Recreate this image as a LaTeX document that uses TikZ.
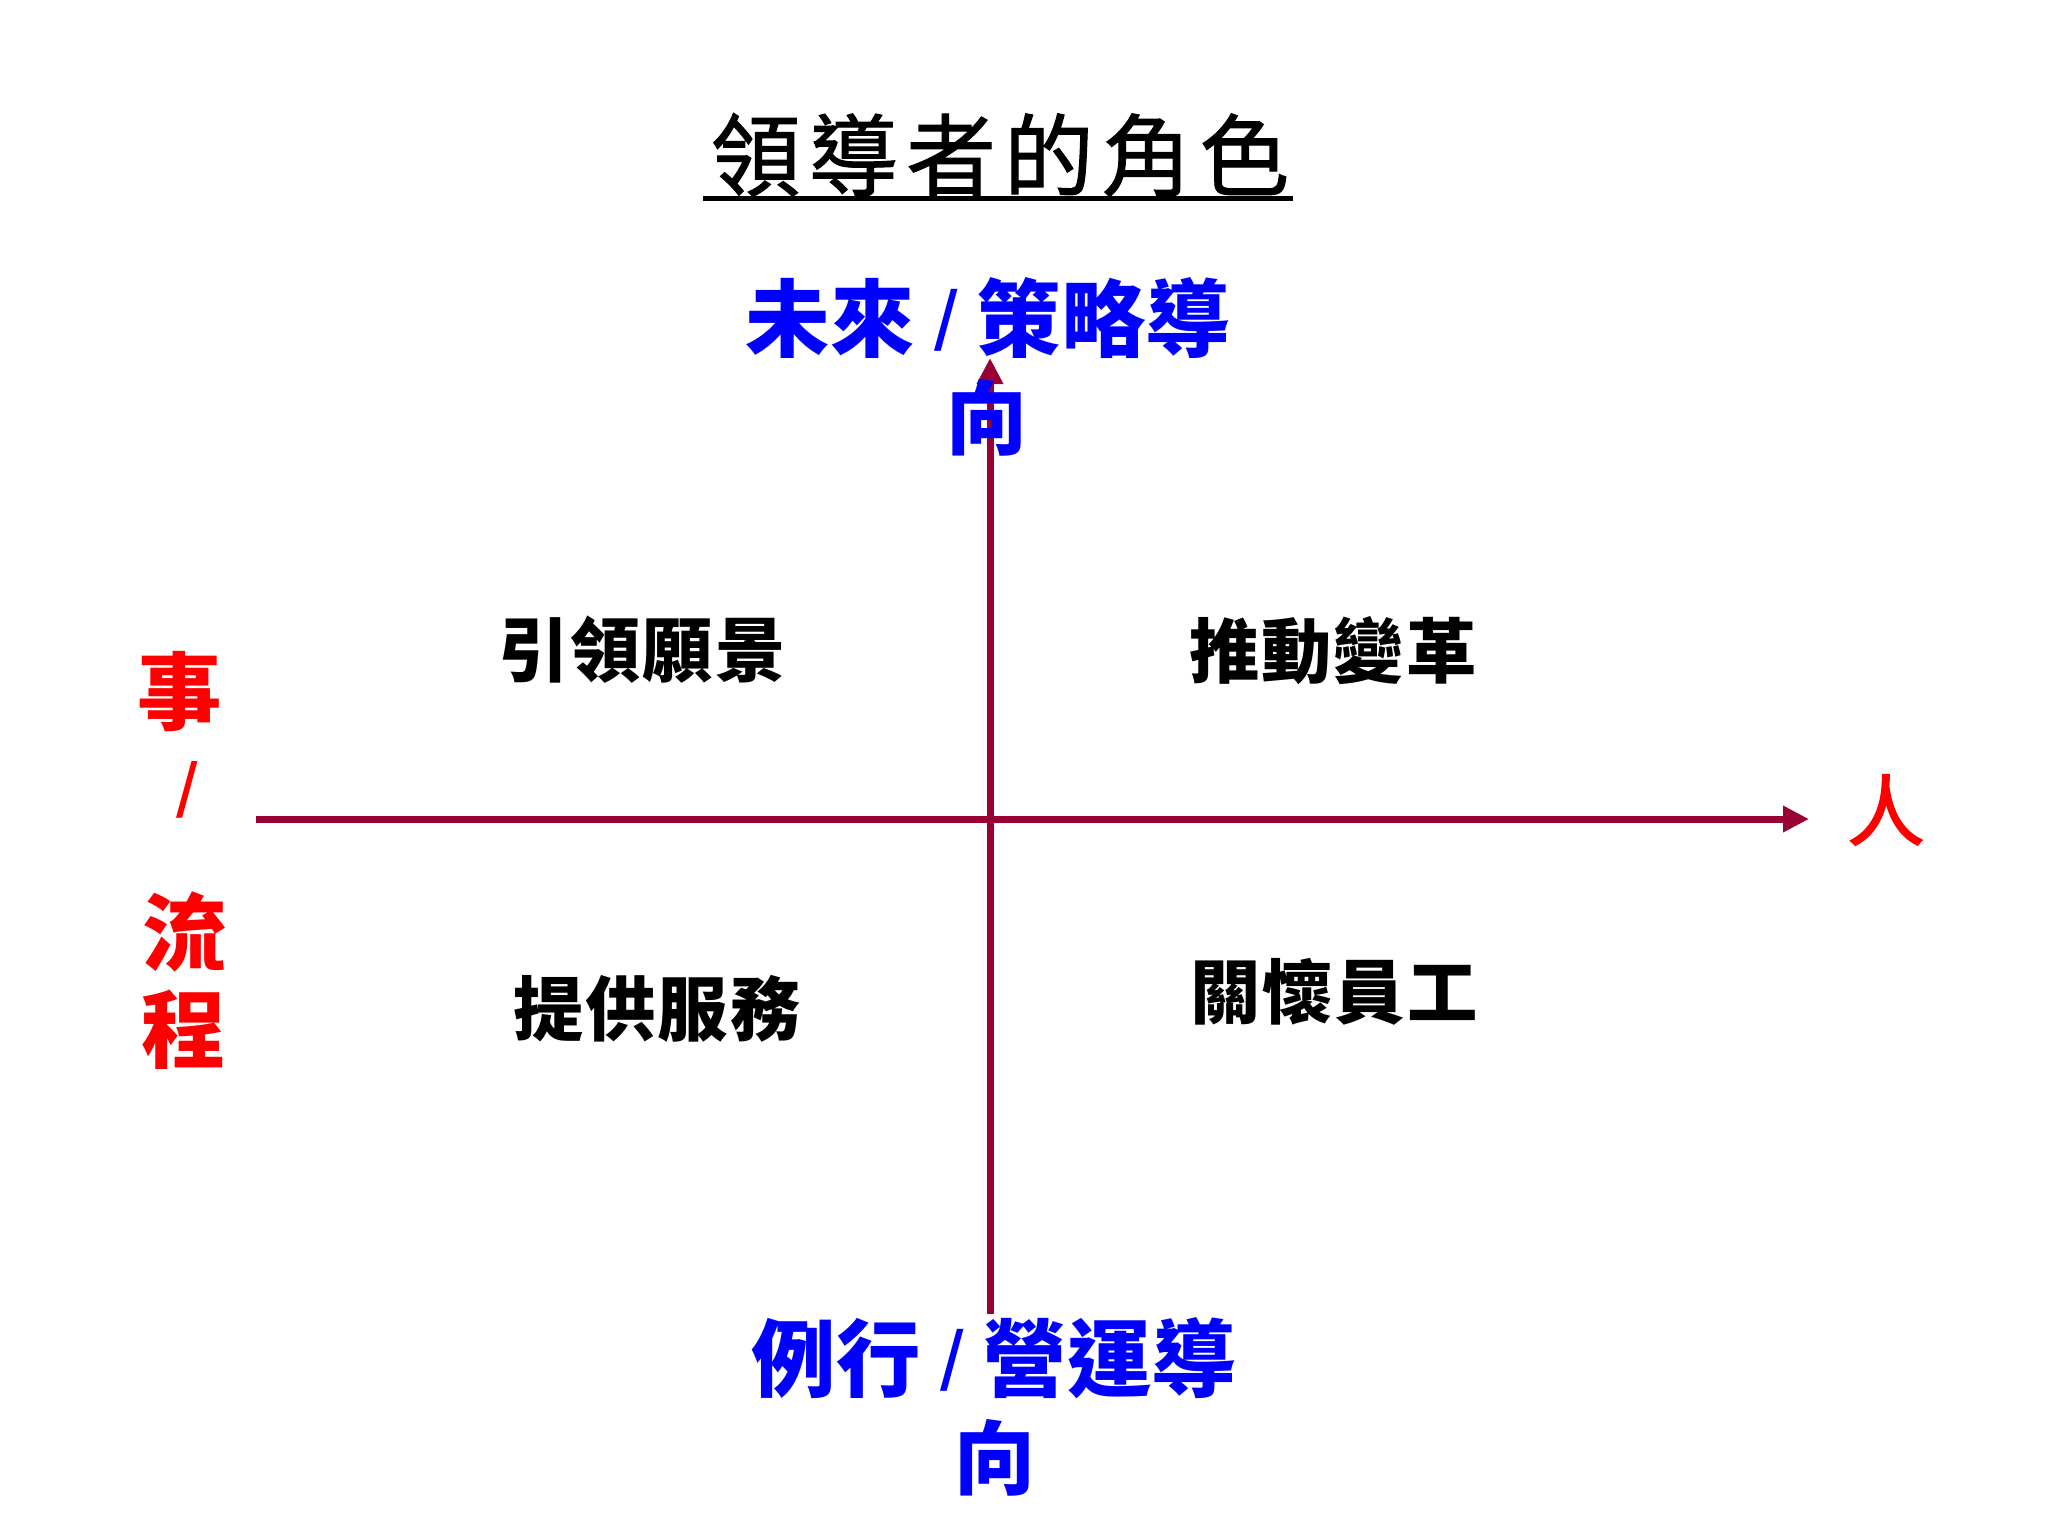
\documentclass[tikz,border=0pt]{standalone}
\usepackage{fontspec}
\usetikzlibrary{arrows.meta}
\newfontfamily\cjk{Noto Sans CJK TC}
\newfontfamily\cjkt[LetterSpace=9,FakeBold=1.2]{Noto Sans CJK TC}
\newfontfamily\cjkm[FakeBold=2]{Noto Sans CJK TC}
\newfontfamily\cjkq[LetterSpace=3]{Noto Sans CJK TC}
\newfontfamily\lat{Liberation Sans}
\definecolor{axiscol}{HTML}{990033}
\begin{document}
\begin{tikzpicture}[x=0.01cm,y=-0.01cm]
\useasboundingbox[fill=white] (0,0) rectangle (2048,1536);
\tikzset{
  axisline/.style={draw=axiscol, line width=0.07cm, -{Triangle[length=0.26cm,width=0.25cm]}},
  ttl/.style={font=\cjkt\fontsize{25.5}{30}\selectfont, inner sep=0},
  blulbl/.style={font=\cjk\bfseries\fontsize{24}{28}\selectfont, text=blue, inner sep=0},
  redlbl/.style={font=\cjk\bfseries\fontsize{24}{28}\selectfont, text=red, inner sep=0},
  quad/.style={font=\cjkq\bfseries\fontsize{20}{24}\selectfont, inner sep=0},
}
% axes
\coordinate (vS) at (990,1314);
\coordinate (vN) at (990,358);
\coordinate (hW) at (256,819);
\coordinate (hE) at (1809,819);
\draw[axisline] (vS) -- (vN);
\draw[axisline] (hW) -- (hE);
% title
\node[ttl] (title) at (1000,155) {領導者的角色};
\draw[line width=0.05cm] (703,198) -- (1293,198);
% vertical labels
\node[blulbl] (top1) at (988,318) {未來 {\lat\mdseries /} 策略導};
\node[blulbl, font=\cjk\bfseries\fontsize{23}{27}\selectfont] (top2) at (987,418) {向};
\node[blulbl] (bot1) at (994,1358) {例行 {\lat\mdseries /} 營運導};
\node[blulbl, font=\cjk\bfseries\fontsize{23}{27}\selectfont] (bot2) at (995,1458) {向};
% horizontal labels
\node[redlbl, font=\cjkm\fontsize{22}{26}\selectfont] (ren) at (1886,810) {人};
\node[redlbl] (shi) at (180,692) {事};
\node[redlbl, font=\lat\fontsize{22}{26}\selectfont] (sl) at (187,790) {/};
\node[redlbl] (liu) at (185,932) {流};
\node[redlbl] (cheng) at (184,1030) {程};
% quadrants
\node[quad] (q1) at (642,650) {引領願景};
\node[quad] (q2) at (1333,651) {推動變革};
\node[quad] (q3) at (657,1009) {提供服務};
\node[quad] (q4) at (1334,992) {關懷員工};
\end{tikzpicture}
\end{document}
